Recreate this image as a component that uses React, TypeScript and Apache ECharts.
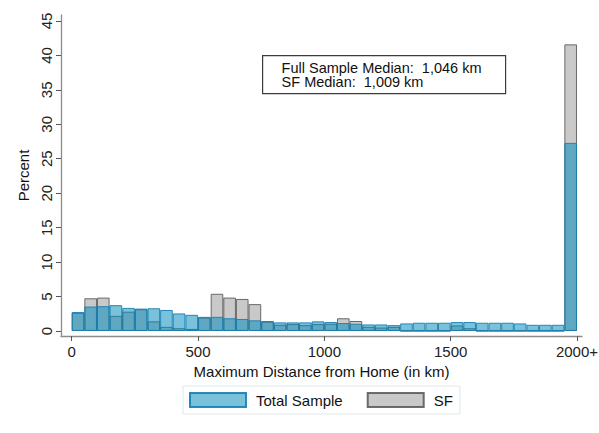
import React, { useEffect, useRef } from "react";
import * as echarts from "echarts";

// Bin start (km) of each 50 km histogram bin; the last bin holds the 2000+ top code
const binStarts = [
  0, 50, 100, 150, 200, 250, 300, 350, 400, 450,
  500, 550, 600, 650, 700, 750, 800, 850, 900, 950,
  1000, 1050, 1100, 1150, 1200, 1250, 1300, 1350, 1400, 1450,
  1500, 1550, 1600, 1650, 1700, 1750, 1800, 1850, 1900, 1950,
];

// Percent of observations per bin
const totalSample = [
  2.75, 3.55, 3.6, 3.75, 3.35, 3.25, 3.3, 3.05, 2.55, 2.35,
  2.05, 2.05, 1.85, 1.75, 1.55, 1.45, 1.25, 1.25, 1.25, 1.4,
  1.3, 1.15, 1.05, 0.95, 0.95, 0.85, 1.1, 1.2, 1.2, 1.2,
  1.3, 1.3, 1.2, 1.2, 1.2, 1.1, 0.9, 0.9, 0.9, 27.3,
];

const sfSample = [
  2.65, 4.75, 4.85, 2.2, 2.8, 3.15, 1.4, 0.6, 0.4, 0.3,
  1.95, 5.4, 4.85, 4.65, 3.9, 1.35, 0.9, 1.0, 0.85, 1.0,
  1.05, 1.85, 1.45, 0.6, 0.5, 0.6, 0, 0, 0, 0,
  0.8, 0.4, 0, 0, 0, 0, 0, 0, 0, 41.6,
];

const xTicks = [0, 500, 1000, 1500, 2000];
const yTicks = [0, 5, 10, 15, 20, 25, 30, 35, 40, 45];
const seriesNames = ["Total Sample", "SF"];
const medianLines = ["Full Sample Median:  1,046 km", "SF Median:  1,009 km"];

export default function App() {
  const ref = useRef<HTMLDivElement>(null);

  useEffect(() => {
    if (!ref.current) return;
    const chart = echarts.init(ref.current, null, { renderer: "svg" });
    const font = "'Liberation Sans', Arial, Helvetica, sans-serif";
    const binWidth = binStarts[1] - binStarts[0];
    const toPoints = (vals: number[]) =>
      vals.map((v, i) => [binStarts[i] + binWidth / 2, v]);

    chart.setOption({
      animation: false,
      backgroundColor: "#ffffff",
      textStyle: { fontFamily: font },
      grid: {
        left: 61,
        right: 17,
        top: 15,
        bottom: 97,
        containLabel: false,
        outerBoundsMode: "none",
      },
      xAxis: {
        type: "value",
        min: -42.4,
        max: 2019.8,
        axisLine: { show: true, onZero: false, lineStyle: { color: "#8c8c8c", width: 1.3 } },
        axisTick: {
          show: true,
          length: 5,
          customValues: xTicks,
          lineStyle: { color: "#555555", width: 1 },
        },
        axisLabel: {
          customValues: xTicks,
          formatter: (v: number) => (v === 2000 ? "2000+" : String(v)),
          fontSize: 15,
          color: "#222222",
          margin: 8,
          fontFamily: font,
        },
        splitLine: { show: false },
        name: "Maximum Distance from Home (in km)",
        nameLocation: "middle",
        nameGap: 26,
        nameTextStyle: { fontSize: 15, color: "#111111", fontFamily: font },
      },
      yAxis: {
        type: "value",
        min: -0.726,
        max: 45.86,
        axisLine: { show: true, onZero: false, lineStyle: { color: "#8c8c8c", width: 1.3 } },
        axisTick: {
          show: true,
          length: 5,
          customValues: yTicks,
          lineStyle: { color: "#555555", width: 1 },
        },
        axisLabel: {
          customValues: yTicks,
          rotate: 90,
          fontSize: 15,
          color: "#222222",
          margin: 7,
          fontFamily: font,
        },
        splitLine: { show: false },
        name: "Percent",
        nameLocation: "middle",
        nameRotate: 90,
        nameGap: 27,
        nameTextStyle: { fontSize: 15, color: "#111111", fontFamily: font },
      },
      legend: {
        data: seriesNames,
        left: 183,
        top: 386,
        orient: "horizontal",
        itemWidth: 56,
        itemHeight: 14,
        itemGap: 24,
        icon: "rect",
        backgroundColor: "#ffffff",
        borderColor: "#dfe8ea",
        borderWidth: 1,
        borderRadius: 0,
        padding: [6, 7, 6, 6],
        textStyle: { fontSize: 15, color: "#111111", fontFamily: font, padding: [0, 0, 0, 5] },
      },
      series: [
        {
          name: seriesNames[1],
          type: "bar",
          data: toPoints(sfSample),
          barWidth: "100%",
          barGap: "-100%",
          itemStyle: {
            color: "rgba(147,147,147,0.5)",
            borderColor: "rgba(85,85,85,0.85)",
            borderWidth: 1,
          },
        },
        {
          name: seriesNames[0],
          type: "bar",
          data: toPoints(totalSample),
          barWidth: "100%",
          barGap: "-100%",
          itemStyle: {
            color: "rgba(0,136,186,0.52)",
            borderColor: "rgba(20,128,178,0.9)",
            borderWidth: 1,
          },
        },
      ],
      graphic: [
        {
          type: "group",
          left: 262,
          top: 55,
          children: [
            {
              type: "rect",
              shape: { x: 0, y: 0, width: 243, height: 38 },
              style: { fill: "#ffffff", stroke: "#3c3c3c", lineWidth: 1.2 },
            },
            {
              type: "text",
              x: 19,
              y: 5,
              style: {
                text: medianLines.join("\n"),
                font: "14.5px 'Liberation Sans', Arial, sans-serif",
                fill: "#111111",
                lineHeight: 14.5,
              },
            },
          ],
        },
      ],
    });

    return () => chart.dispose();
  }, []);

  return (
    <div
      ref={ref}
      style={{ position: "fixed", left: 0, top: 0, width: 599, height: 433, background: "#fff" }}
    />
  );
}
